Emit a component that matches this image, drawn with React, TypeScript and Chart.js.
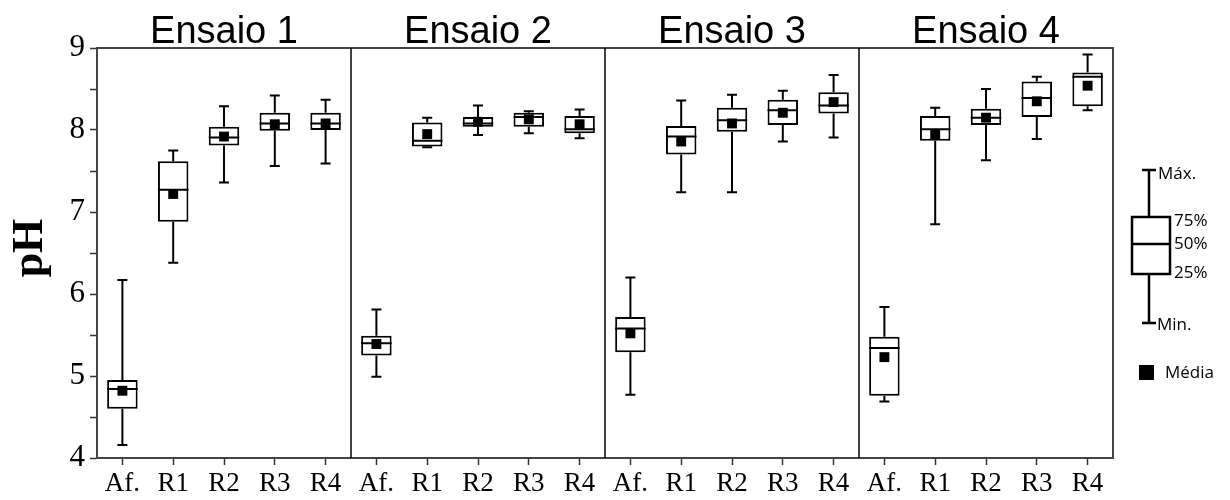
import { useEffect, useRef } from "react";
import { Chart, registerables } from "chart.js";

Chart.register(...registerables);

// Trials (panels) and the sampling points inside each trial
const trials = ["Ensaio 1", "Ensaio 2", "Ensaio 3", "Ensaio 4"];
const groups = ["Af.", "R1", "R2", "R3", "R4"];
const labels = trials.flatMap(() => groups);

// pH summary statistics, 5 groups per trial, trials in order
const minValues = [
  4.16, 6.38, 7.36, 7.56, 7.59,
  4.99, 7.79, 7.94, 7.96, 7.9,
  4.77, 7.24, 7.24, 7.86, 7.91,
  4.69, 6.85, 7.63, 7.89, 8.24,
];
const q1Values = [
  4.6, 6.88, 7.81, 7.99, 8.0,
  5.25, 7.8, 8.04, 8.04, 7.96,
  5.29, 7.7, 7.98, 8.06, 8.2,
  4.76, 7.87, 8.06, 8.16, 8.29,
];
const medianValues = [
  4.84, 7.27, 7.91, 8.08, 8.08,
  5.4, 7.87, 8.08, 8.16, 8.01,
  5.58, 7.92, 8.12, 8.24, 8.3,
  5.34, 8.01, 8.15, 8.39, 8.65,
];
const q3Values = [
  4.95, 7.62, 8.04, 8.21, 8.21,
  5.49, 8.09, 8.16, 8.21, 8.17,
  5.72, 8.05, 8.27, 8.37, 8.46,
  5.48, 8.17, 8.26, 8.59, 8.7,
];
const maxValues = [
  6.17, 7.75, 8.29, 8.42, 8.37,
  5.81, 8.15, 8.3, 8.23, 8.25,
  6.2, 8.36, 8.43, 8.48, 8.67,
  5.84, 8.27, 8.5, 8.65, 8.92,
];
const meanValues = [
  4.82, 7.22, 7.92, 8.07, 8.08,
  5.39, 7.95, 8.1, 8.13, 8.07,
  5.52, 7.86, 8.08, 8.21, 8.34,
  5.23, 7.94, 8.15, 8.35, 8.54,
];

// y axis range and tick step (labels only on whole numbers)
const yMin = 4;
const yMax = 9;
const yStep = 0.5;
const yTitle = "pH";

// legend texts
const legendStats = ["Máx.", "75%", "50%", "25%", "Min."];
const legendMean = "Média";

const SERIF = "'Liberation Serif', 'Times New Roman', serif";
const SANS = "'Liberation Sans', Arial, sans-serif";
const LEGEND_FONT = "'Open Sans', 'Noto Sans', sans-serif";

const CANVAS_W = 1214;
const CANVAS_H = 492;

const boxExtras = {
  id: "boxExtras",
  // whiskers and medians, drawn right after the boxes and before the means
  afterDatasetDraw(chart: any, args: any) {
    if (args.index !== 0) return;
    const { ctx } = chart;
    const y = chart.scales.y;
    const meta = chart.getDatasetMeta(0);
    const cap = 5;
    ctx.save();
    ctx.strokeStyle = "#000";
    ctx.lineWidth = 2;
    ctx.lineCap = "butt";
    meta.data.forEach((bar: any, i: number) => {
      const x = bar.x;
      const half = bar.width / 2;
      const yMed = y.getPixelForValue(medianValues[i]);
      const yQ1 = y.getPixelForValue(q1Values[i]);
      const yQ3 = y.getPixelForValue(q3Values[i]);
      const yLo = y.getPixelForValue(minValues[i]);
      const yHi = y.getPixelForValue(maxValues[i]);
      ctx.beginPath();
      ctx.moveTo(x - half, yMed);
      ctx.lineTo(x + half, yMed);
      // upper whisker
      ctx.moveTo(x, yQ3);
      ctx.lineTo(x, yHi);
      ctx.moveTo(x - cap, yHi);
      ctx.lineTo(x + cap, yHi);
      // lower whisker
      ctx.moveTo(x, yQ1);
      ctx.lineTo(x, yLo);
      ctx.moveTo(x - cap, yLo);
      ctx.lineTo(x + cap, yLo);
      ctx.stroke();
    });
    ctx.restore();
  },
  afterDraw(chart: any) {
    const { ctx, chartArea } = chart;
    const x = chart.scales.x;
    const { left, right, top, bottom } = chartArea;
    ctx.save();

    // frame around the plotting area
    ctx.strokeStyle = "#444";
    ctx.lineWidth = 2;
    ctx.strokeRect(left, top, right - left, bottom - top);

    // group labels under each category tick
    ctx.fillStyle = "#000";
    ctx.font = `27px ${SERIF}`;
    ctx.textAlign = "center";
    ctx.textBaseline = "alphabetic";
    labels.forEach((lab, i) => {
      ctx.fillText(lab, x.getPixelForValue(i), bottom + 33);
    });

    // panel boundaries and panel titles
    const n = groups.length;
    const edges: number[] = [left];
    for (let p = 1; p < trials.length; p++) {
      const a = x.getPixelForValue(p * n - 1);
      const b = x.getPixelForValue(p * n);
      edges.push((a + b) / 2);
    }
    edges.push(right);
    ctx.strokeStyle = "#000";
    ctx.lineWidth = 1.5;
    for (let p = 1; p < trials.length; p++) {
      ctx.beginPath();
      ctx.moveTo(edges[p], top);
      ctx.lineTo(edges[p], bottom);
      ctx.stroke();
    }
    ctx.font = `38px ${SANS}`;
    trials.forEach((t, p) => {
      ctx.fillText(t, (edges[p] + edges[p + 1]) / 2, top - 5);
    });

    // vertical axis title
    ctx.save();
    ctx.translate(34, (top + bottom) / 2 - 5);
    ctx.rotate(-Math.PI / 2);
    ctx.font = `bold 44px ${SERIF}`;
    ctx.fillText(yTitle, 0, 0);
    ctx.restore();

    // box-plot key on the right
    const cx = right + 36;
    const bx0 = right + 19;
    const bx1 = right + 57;
    const yHi = top + 122;
    const yQ3 = top + 169;
    const yMed = top + 196;
    const yQ1 = top + 226;
    const yLo = top + 275;
    ctx.strokeStyle = "#000";
    ctx.lineWidth = 2.5;
    ctx.beginPath();
    ctx.moveTo(cx, yHi);
    ctx.lineTo(cx, yQ3);
    ctx.moveTo(cx - 7, yHi);
    ctx.lineTo(cx + 7, yHi);
    ctx.moveTo(cx, yQ1);
    ctx.lineTo(cx, yLo);
    ctx.moveTo(cx - 7, yLo);
    ctx.lineTo(cx + 7, yLo);
    ctx.moveTo(bx0, yMed);
    ctx.lineTo(bx1, yMed);
    ctx.stroke();
    ctx.strokeRect(bx0, yQ3, bx1 - bx0, yQ1 - yQ3);

    ctx.font = `17px ${LEGEND_FONT}`;
    ctx.textAlign = "left";
    ctx.textBaseline = "middle";
    ctx.fillText(legendStats[0], cx + 9, yHi + 4);
    ctx.fillText(legendStats[1], bx1 + 4, yQ3 + 4);
    ctx.fillText(legendStats[2], bx1 + 4, yMed);
    ctx.fillText(legendStats[3], bx1 + 4, yQ1 - 1);
    ctx.fillText(legendStats[4], cx + 8, yLo + 2);

    const my = top + 324;
    ctx.fillRect(cx - 10, my - 7, 15, 15);
    ctx.fillText(legendMean, cx + 16, my + 1);

    ctx.restore();
  },
};

export default function App() {
  const canvasRef = useRef<HTMLCanvasElement | null>(null);

  useEffect(() => {
    const canvas = canvasRef.current;
    if (!canvas) return;
    const boxes = q1Values.map((q1, i) => [q1, q3Values[i]]);

    const chart = new Chart(canvas, {
      type: "bar",
      data: {
        labels,
        datasets: [
          {
            type: "bar",
            label: "Quartis",
            data: boxes as any,
            backgroundColor: "#fff",
            borderColor: "#000",
            borderWidth: 2,
            borderSkipped: false,
            barPercentage: 0.6,
            categoryPercentage: 1,
            order: 2,
          },
          {
            type: "line",
            label: legendMean,
            data: meanValues,
            showLine: false,
            pointStyle: "rect",
            pointRadius: 7,
            pointBackgroundColor: "#000",
            pointBorderColor: "#000",
            pointBorderWidth: 0,
            order: 1,
          },
        ],
      },
      options: {
        responsive: false,
        animation: false,
        events: [],
        layout: { padding: { top: 40, right: 109, left: 0, bottom: 0 } },
        plugins: {
          legend: { display: false },
          tooltip: { enabled: false },
          title: { display: false },
        },
        scales: {
          x: {
            type: "category",
            offset: true,
            afterFit(scale: any) {
              scale.height = 42;
            },
            grid: {
              offset: false,
              drawOnChartArea: false,
              drawTicks: true,
              tickLength: 7,
              tickWidth: 1.5,
              color: "#333",
            },
            border: { display: true, color: "#333", width: 2 },
            ticks: { display: false, autoSkip: false, maxRotation: 0 },
          },
          y: {
            min: yMin,
            max: yMax,
            afterFit(scale: any) {
              scale.width = 89;
            },
            grid: {
              drawOnChartArea: false,
              drawTicks: true,
              tickLength: 7,
              tickWidth: 1.5,
              color: "#333",
            },
            border: { display: true, color: "#333", width: 2 },
            ticks: {
              stepSize: yStep,
              autoSkip: false,
              padding: 5,
              color: "#000",
              font: { family: SERIF, size: 31 },
              callback: (v: any) => (Number.isInteger(Number(v)) ? String(v) : ""),
            },
          },
        },
      },
      plugins: [boxExtras],
    });

    return () => chart.destroy();
  }, []);

  return (
    <div style={{ width: CANVAS_W, height: CANVAS_H, marginBottom: -8 }}>
      <canvas
        ref={canvasRef}
        width={CANVAS_W}
        height={CANVAS_H}
        style={{ display: "block" }}
      />
    </div>
  );
}
